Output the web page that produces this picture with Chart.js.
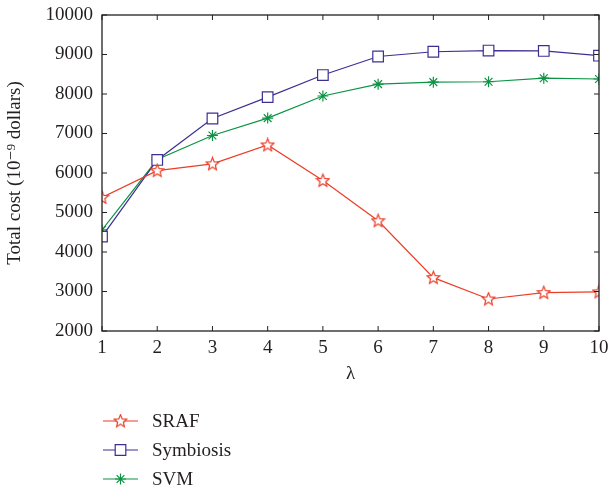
<!DOCTYPE html>
<html>
<head>
<meta charset="utf-8">
<script src="https://cdn.jsdelivr.net/npm/chart.js@4"></script>
<style>
  html, body { margin: 0; padding: 0; background: #fff; }
  #wrap { width: 608px; height: 489px; }
</style>
</head>
<body>
<div id="wrap"><canvas id="cost"></canvas></div>
<script>
const lambdas = [1, 2, 3, 4, 5, 6, 7, 8, 9, 10];
const srafCost = [5380, 6060, 6230, 6710, 5810, 4790, 3350, 2810, 2970, 2990];
const symbiosisCost = [4390, 6330, 7380, 7920, 8480, 8950, 9070, 9100, 9090, 8970];
const svmCost = [4560, 6340, 6950, 7390, 7950, 8250, 8300, 8310, 8400, 8380];
const yTicks = [2000, 3000, 4000, 5000, 6000, 7000, 8000, 9000, 10000];

const seriesNames = ["SRAF", "Symbiosis", "SVM"];
const seriesColors = ["#ec3d27", "#3c2f94", "#0c9444"];
const FONT = "'Liberation Serif', 'DejaVu Serif', serif";
const TEXT = "#231f20";

// hollow 5 point star, the marker of SRAF
function starMarker(color) {
    const c = document.createElement("canvas");
    c.width = c.height = 15;
    const g = c.getContext("2d");
    g.beginPath();
    for (let i = 0; i < 10; i++) {
        const r = i % 2 === 0 ? 6.6 : 3.0;
        const a = -Math.PI / 2 + i * Math.PI / 5;
        const px = 7.5 + r * Math.cos(a), py = 7.8 + r * Math.sin(a);
        i === 0 ? g.moveTo(px, py) : g.lineTo(px, py);
    }
    g.closePath();
    g.fillStyle = "#fff";
    g.fill();
    g.strokeStyle = color;
    g.lineWidth = 1.2;
    g.stroke();
    return c;
}

// box around the plot and inward ticks on all four sides
const frame = {
    id: "frame",
    afterDatasetsDraw(chart) {
        const {ctx, chartArea: a, scales} = chart;
        ctx.save();
        ctx.strokeStyle = "#231f20";
        ctx.lineWidth = 1.3;
        ctx.strokeRect(a.left, a.top, a.right - a.left, a.bottom - a.top);
        ctx.lineWidth = 1;
        ctx.beginPath();
        scales.x.ticks.forEach(t => {
            const x = scales.x.getPixelForValue(t.value);
            ctx.moveTo(x, a.bottom); ctx.lineTo(x, a.bottom - 5);
            ctx.moveTo(x, a.top); ctx.lineTo(x, a.top + 5);
        });
        scales.y.ticks.forEach(t => {
            const y = scales.y.getPixelForValue(t.value);
            ctx.moveTo(a.left, y); ctx.lineTo(a.left + 5, y);
            ctx.moveTo(a.right, y); ctx.lineTo(a.right - 5, y);
        });
        ctx.stroke();
        ctx.restore();
    }
};

// legend stacked below the plot
const stackedLegend = {
    id: "stackedLegend",
    afterDraw(chart) {
        const ctx = chart.ctx;
        const rows = [421, 450, 479];
        ctx.save();
        chart.data.datasets.forEach((ds, i) => {
            const y = rows[i];
            ctx.strokeStyle = ds.borderColor;
            ctx.lineWidth = ds.borderWidth;
            ctx.beginPath();
            ctx.moveTo(103, y);
            ctx.lineTo(138, y);
            ctx.stroke();
            ctx.fillStyle = ds.pointBackgroundColor;
            Chart.helpers.drawPoint(ctx, {
                pointStyle: ds.pointStyle,
                radius: ds.pointRadius,
                borderWidth: ds.borderWidth,
                rotation: 0
            }, 120.5, y);
            ctx.fillStyle = TEXT;
            ctx.font = "19px " + FONT;
            ctx.textBaseline = "middle";
            ctx.fillText(ds.label, 152, y + 1);
        });
        ctx.restore();
    }
};

function series(i, data, style, radius) {
    return {
        label: seriesNames[i],
        data: data,
        borderColor: seriesColors[i],
        backgroundColor: seriesColors[i],
        pointBackgroundColor: "#fff",
        pointBorderColor: seriesColors[i],
        pointStyle: style,
        pointRadius: radius,
        pointHoverRadius: radius,
        borderWidth: 1.2,
        tension: 0
    };
}

new Chart(document.querySelector("#cost"), {
    type: "line",
    data: {
        labels: lambdas,
        datasets: [
            series(0, srafCost, starMarker(seriesColors[0]), 7),
            series(1, symbiosisCost, "rect", 7.5),
            series(2, svmCost, "star", 5.5)
        ]
    },
    options: {
        responsive: true,
        maintainAspectRatio: false,
        animation: false,
        layout: {padding: {left: 0, right: 9, top: 15, bottom: 100}},
        plugins: {
            legend: {display: false},
            tooltip: {enabled: false}
        },
        scales: {
            x: {
                type: "linear",
                min: 1,
                max: 10,
                grid: {display: false, drawTicks: false},
                border: {display: false},
                afterBuildTicks: s => { s.ticks = lambdas.map(v => ({value: v})); },
                ticks: {color: TEXT, font: {family: FONT, size: 19}, padding: 6, maxRotation: 0},
                title: {display: true, text: "λ", color: TEXT, font: {family: FONT, size: 19}, padding: {top: 0}},
                afterFit: s => { s.height = 58; s.paddingRight = 0; s.paddingLeft = 0; }
            },
            y: {
                min: 2000,
                max: 10000,
                grid: {display: false, drawTicks: false},
                border: {display: false},
                afterBuildTicks: s => { s.ticks = yTicks.map(v => ({value: v})); },
                ticks: {color: TEXT, font: {family: FONT, size: 19}, padding: 9, callback: v => String(v)},
                title: {display: true, text: "Total cost (10⁻⁹ dollars)", color: TEXT, font: {family: FONT, size: 19}, padding: {bottom: 6}},
                afterFit: s => { s.width = 102; s.paddingTop = 0; s.paddingBottom = 0; }
            }
        }
    },
    plugins: [frame, stackedLegend]
});
</script>
</body>
</html>
